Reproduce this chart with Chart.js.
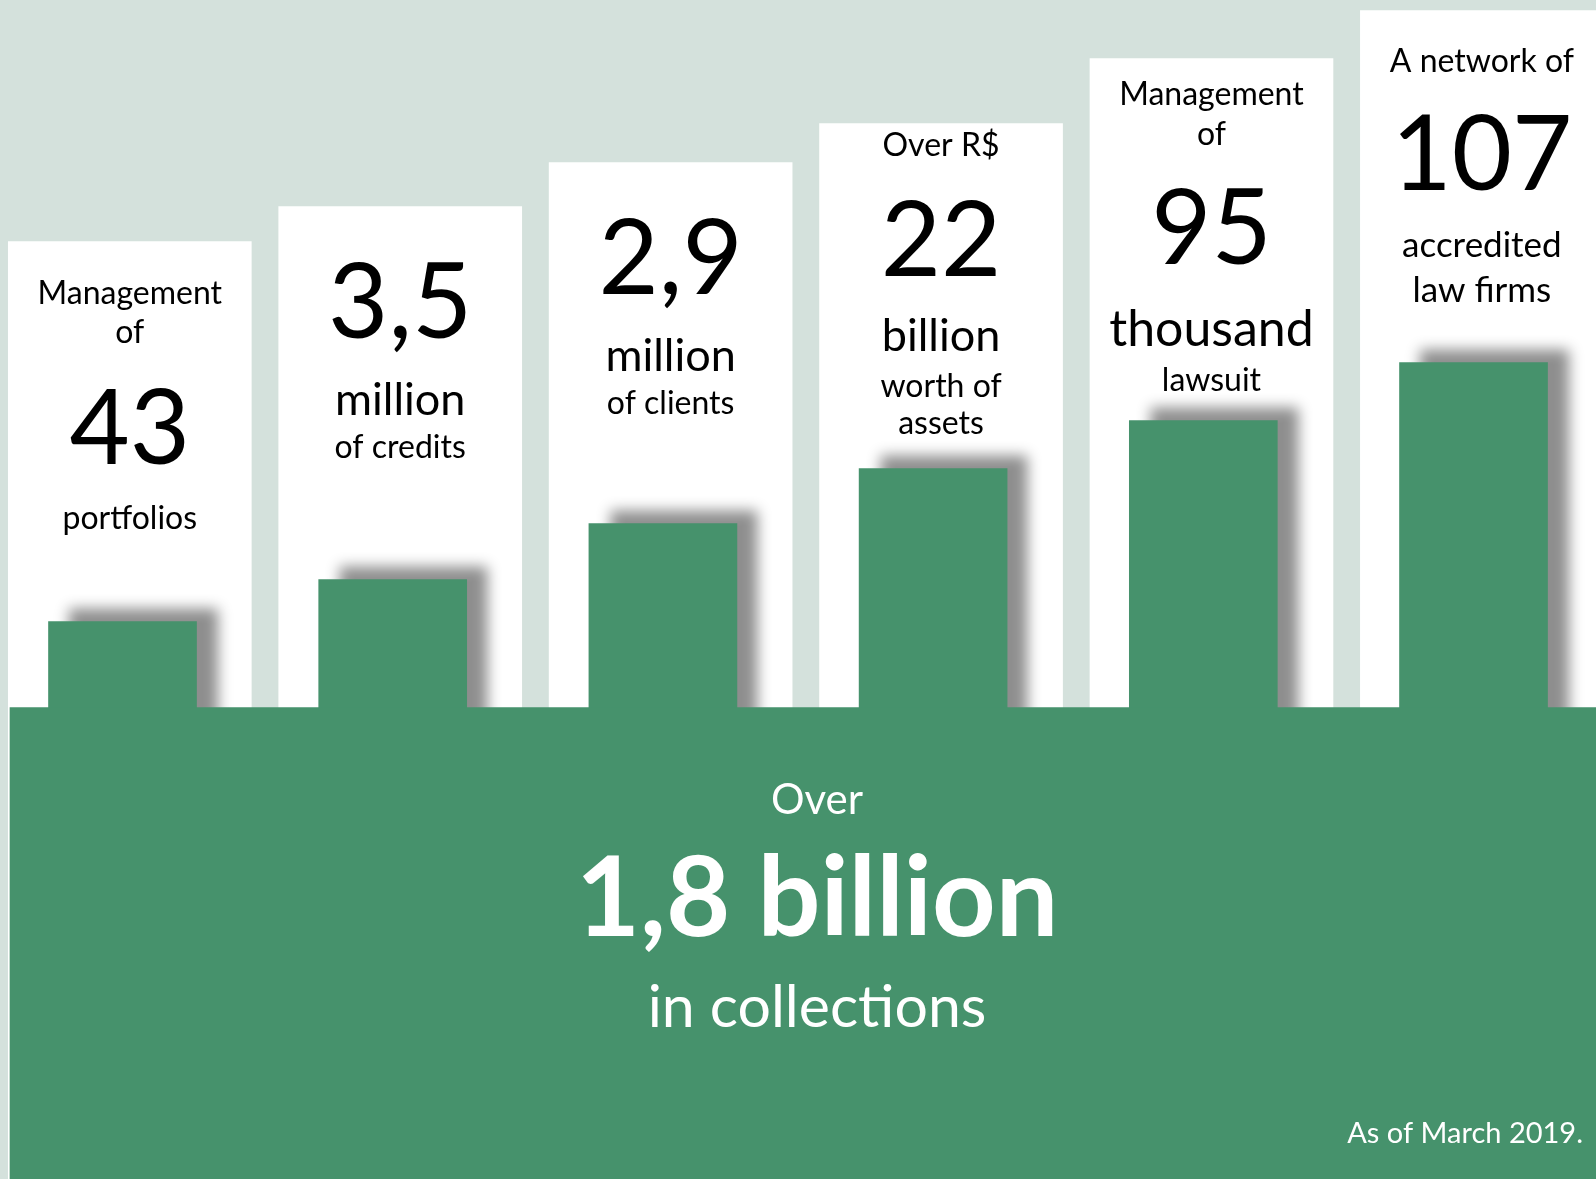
<!DOCTYPE html>
<html>
<head>
<meta charset="utf-8">
<script src="https://cdn.jsdelivr.net/npm/chart.js@4.4.1/dist/chart.umd.min.js"></script>
<style>
  html, body { margin: 0; padding: 0; background: #d4e1dc; }
  #wrap { position: relative; width: 1596px; height: 1179px; overflow: hidden; }
</style>
</head>
<body>
<div id="wrap"><canvas id="c"></canvas></div>
<script>
// ---------- data ----------
const categories   = ['portfolios', 'credits', 'clients', 'assets', 'lawsuits', 'law firms'];
const panelHeights = [466, 501, 545, 584, 649, 697];   // white panels, height above the base line
const barHeights   = [86, 128, 184, 239, 287, 345];    // green bars, height above the base line
const baseRange    = [-472, 0];                         // "collections" band below the base line
const headlines    = ['43', '3,5', '2,9', '22', '95', '107'];
const upperLines   = [['Management', 'of'], [], [], ['Over R$'], ['Management', 'of'], ['A network of']];
const lowerLines   = [['portfolios'], ['million', 'of credits'], ['million', 'of clients'],
                      ['billion', 'worth of', 'assets'], ['thousand', 'lawsuit'], ['accredited', 'law firms']];
const baseLines    = ['Over', '1,8 billion', 'in collections'];
const footnote     = 'As of March 2019.';

// ---------- styles ----------
const GREEN = '#46926c';
const FONT = 'Lato, "Open Sans", sans-serif';
const SIZES = { small: 32, mid: 45, large: 50, acc: 35, big: 104 };
// per column: role and baseline offset (px) of each line, measured from the panel top
const LAYOUT = [
  [['small', 62], ['small', 101], ['big', 222], ['small', 287]],
  [['big', 131], ['mid', 208], ['small', 251]],
  [['big', 131], ['mid', 208], ['small', 251]],
  [['small', 32], ['big', 152], ['mid', 227], ['small', 273], ['small', 310]],
  [['small', 46], ['small', 86], ['big', 205], ['large', 287], ['small', 332]],
  [['small', 61], ['big', 179], ['acc', 246], ['acc', 291]]
];
const BASE_LAYOUT = [[42, '400', 106], [111, '700', 228], [59, '400', 319]];
const FOOT_STYLE = { size: 29, dy: 435, right: 13 };

const shadowPlugin = {
  id: 'barShadow',
  beforeDatasetDraw(chart, args) {
    if (chart.data.datasets[args.index].shadow) {
      const ctx = chart.ctx;
      ctx.save();
      ctx.shadowColor = 'rgb(142,142,142)';
      ctx.shadowBlur = 13;
      ctx.shadowOffsetX = 21;
      ctx.shadowOffsetY = -13;
    }
  },
  afterDatasetDraw(chart, args) {
    if (chart.data.datasets[args.index].shadow) chart.ctx.restore();
  }
};

const textPlugin = {
  id: 'panelText',
  afterDraw(chart) {
    const ctx = chart.ctx;
    const panels = chart.getDatasetMeta(2).data;
    ctx.save();
    ctx.textAlign = 'center';
    ctx.textBaseline = 'alphabetic';
    ctx.fillStyle = '#000000';
    panels.forEach((el, i) => {
      const lines = [...upperLines[i], headlines[i], ...lowerLines[i]];
      lines.forEach((t, j) => {
        const [role, dy] = LAYOUT[i][j];
        ctx.font = `400 ${SIZES[role]}px ${FONT}`;
        ctx.fillText(t, el.x, el.y + dy);
      });
    });
    const band = chart.getDatasetMeta(0).data[0];
    const bandTop = Math.min(band.y, band.base);
    ctx.fillStyle = '#ffffff';
    baseLines.forEach((t, j) => {
      const [size, weight, dy] = BASE_LAYOUT[j];
      ctx.font = `${weight} ${size}px ${FONT}`;
      ctx.fillText(t, band.x, bandTop + dy);
    });
    ctx.textAlign = 'right';
    ctx.font = `400 ${FOOT_STYLE.size}px ${FONT}`;
    ctx.fillText(footnote, chart.chartArea.right - FOOT_STYLE.right, bandTop + FOOT_STYLE.dy);
    ctx.restore();
  }
};

new Chart(document.getElementById('c'), {
  type: 'bar',
  data: {
    labels: categories,
    datasets: [
      {
        label: 'collections',
        data: [{ x: 0, y: baseRange }],
        xAxisID: 'xb',
        grouped: false,
        backgroundColor: GREEN,
        borderWidth: 0,
        barThickness: 1614,
        order: 0
      },
      {
        label: 'bars',
        data: barHeights.map((v, i) => ({ x: i, y: v })),
        xAxisID: 'xg',
        grouped: false,
        base: baseRange[0],
        backgroundColor: GREEN,
        borderWidth: 0,
        barThickness: 148,
        shadow: true,
        order: 1
      },
      {
        label: 'panels',
        data: panelHeights.map((v, i) => ({ x: i, y: v })),
        xAxisID: 'x',
        grouped: false,
        base: baseRange[0],
        backgroundColor: '#ffffff',
        borderWidth: 0,
        barThickness: 243,
        order: 2
      }
    ]
  },
  options: {
    responsive: true,
    maintainAspectRatio: false,
    animation: false,
    devicePixelRatio: 1,
    layout: { padding: 0 },
    plugins: { legend: { display: false }, tooltip: { enabled: false }, title: { display: false } },
    scales: {
      x:  { type: 'linear', display: false, min: -0.480, max: 5.422, offset: false },
      xg: { type: 'linear', display: false, min: -0.4534, max: 5.4533, offset: false },
      xb: { type: 'linear', display: false, min: -1.0238, max: 0.9762, offset: false },
      y:  { type: 'linear', display: false, min: -471.3, max: 707.7 }
    }
  },
  plugins: [shadowPlugin, textPlugin]
});
</script>
</body>
</html>
